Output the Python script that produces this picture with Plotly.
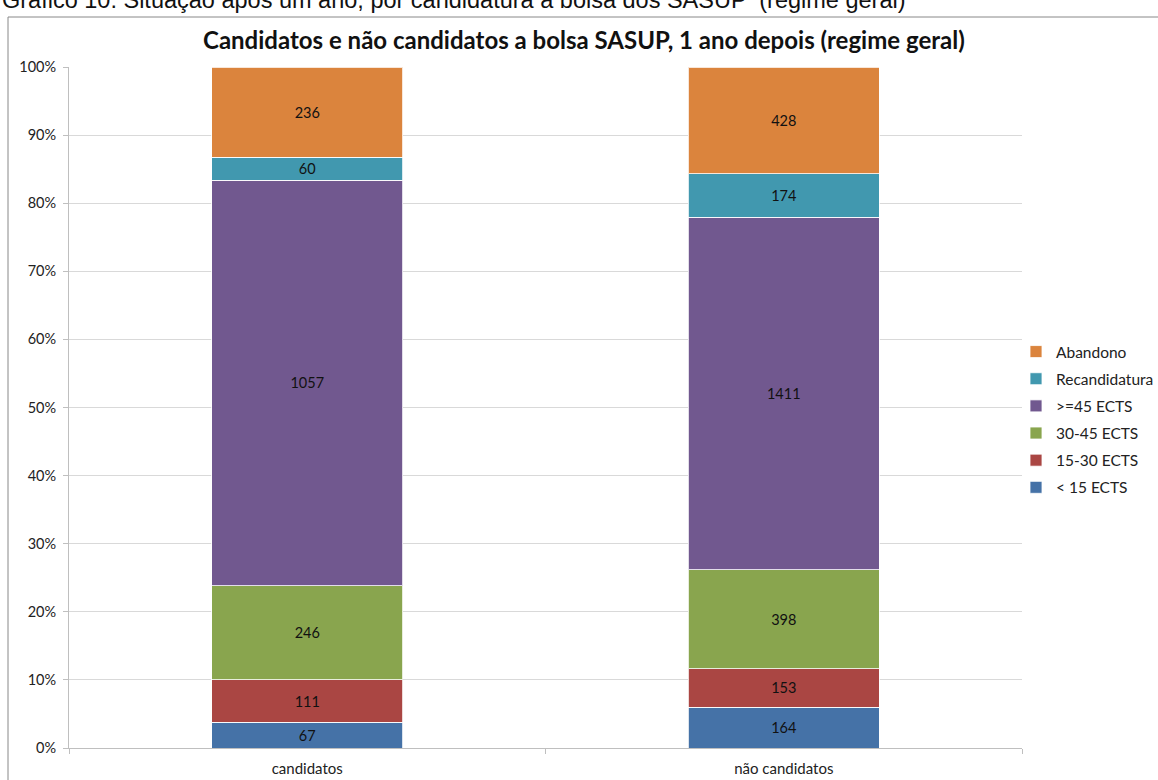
import plotly.graph_objects as go

# categories and counts
groups = ["candidatos", "não candidatos"]
series = ["< 15 ECTS", "15-30 ECTS", "30-45 ECTS", ">=45 ECTS", "Recandidatura", "Abandono"]
lt15 = [67, 164]
e15_30 = [111, 153]
e30_45 = [246, 398]
ge45 = [1057, 1411]
recand = [60, 174]
abandono = [236, 428]
values = [lt15, e15_30, e30_45, ge45, recand, abandono]
colors = ["#4572A7", "#AA4643", "#89A54E", "#71588F", "#4198AF", "#DB843D"]

FONT = "Lato, Open Sans, sans-serif"

fig = go.Figure()
for i, (name, vals, col) in enumerate(zip(series, values, colors)):
    fig.add_trace(go.Bar(
        x=groups, y=vals, name=name, legendgroup=name, legendrank=1000 - i,
        marker=dict(color=col, line=dict(color="rgba(255,255,255,0.8)", width=1)),
        text=vals, textposition="inside", insidetextanchor="middle",
        textangle=0, constraintext="none",
        textfont=dict(color="#111", size=14.5, family=FONT),
        width=0.4,
    ))

# plot area in pixels: x 69..1022, y 67..748
W, H = 1158, 780
L, R, T, B = 69, 1158 - 1022, 67, 780 - 748
pw, ph = W - L - R, H - T - B


def px_x(x):
    return (x - L) / pw


def px_y(y):
    return 1 - (y - T) / ph


fig.update_layout(
    width=W, height=H,
    barmode="stack", barnorm="percent",
    margin=dict(l=L, r=R, t=T, b=B, autoexpand=False),
    paper_bgcolor="white", plot_bgcolor="white",
    font=dict(family=FONT, size=14, color="#222"),
    showlegend=True,
    legend=dict(
        traceorder="grouped", x=px_x(1016), y=px_y(335), xanchor="left", yanchor="top",
        font=dict(size=15.5, family=FONT), itemwidth=30, tracegroupgap=4,
        bgcolor="rgba(0,0,0,0)",
    ),
    shapes=[dict(type="rect", xref="paper", yref="paper",
                 x0=px_x(8), x1=px_x(1170), y0=px_y(800), y1=px_y(17),
                 line=dict(color="#888", width=1), layer="below")],
    annotations=[
        dict(text="<b>Candidatos e não candidatos a bolsa SASUP, 1 ano depois (regime geral)</b>",
             xref="paper", yref="paper", x=px_x(584), y=px_y(40),
             xanchor="center", yanchor="middle", showarrow=False,
             font=dict(size=24, family=FONT, color="#111")),
        dict(text="Gráfico 10: Situação após um ano, por candidatura à bolsa dos SASUP  (regime geral)",
             xref="paper", yref="paper", x=px_x(0), y=px_y(15),
             xanchor="left", yanchor="bottom", showarrow=False,
             font=dict(size=23.5, family="Liberation Sans, Arial", color="#111")),
    ],
)
fig.update_yaxes(
    range=[0, 100], dtick=10, ticksuffix="%", showgrid=True, gridcolor="#d9d9d9",
    showline=True, linecolor="#bfbfbf", ticks="outside", ticklen=5, tickcolor="#bfbfbf",
    zeroline=False, tickfont=dict(size=14.5, color="#222"), ticklabelstandoff=4,
)
fig.update_xaxes(
    showline=True, linecolor="#bfbfbf", ticks="outside", ticklen=5, tickcolor="#bfbfbf",
    tickson="boundaries", tickfont=dict(size=15, color="#222"), ticklabelstandoff=7,
)

fig.write_html("out.html", config={"displayModeBar": False},
               post_script="document.body.style.margin='0';")
